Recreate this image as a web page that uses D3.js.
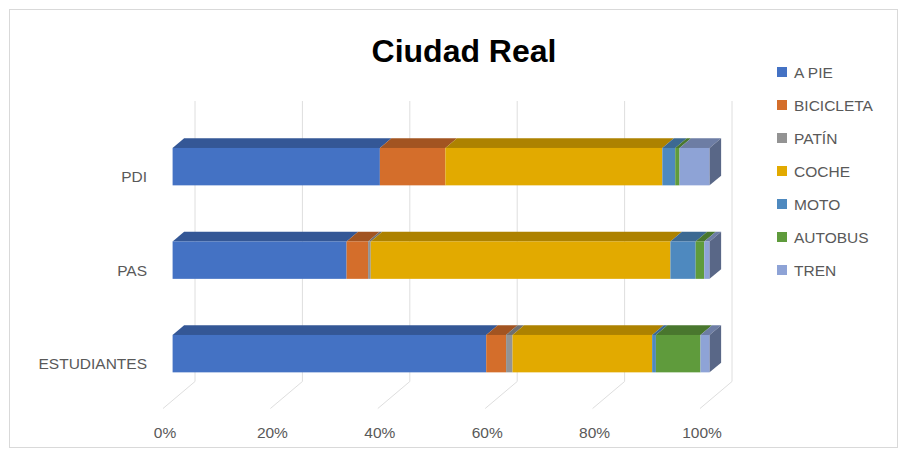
<!DOCTYPE html>
<html>
<head>
<meta charset="utf-8">
<script src="https://cdn.jsdelivr.net/npm/d3@7"></script>
<style>
  body { margin: 0; background: #fff; }
  text { font-family: "Liberation Sans", Arial, sans-serif; }
</style>
</head>
<body>
<script>
// categories (top to bottom) and modes of transport
const categories = ["PDI", "PAS", "ESTUDIANTES"];
const modes = ["A PIE", "BICICLETA", "PATÍN", "COCHE", "MOTO", "AUTOBUS", "TREN"];
const colors = ["#4472C4", "#D46E2B", "#939393", "#E2AA00", "#4E89BF", "#5F9B3C", "#8EA3D6"];

// percentages per category, in the order of modes
const pdi = [38.6, 12.2, 0, 40.4, 2.4, 0.8, 5.6];
const pas = [32.4, 4.0, 0.5, 55.8, 4.7, 1.6, 1.0];
const estudiantes = [58.4, 3.7, 1.2, 26.0, 0.7, 8.3, 1.7];
const values = [pdi, pas, estudiantes];

const ticks = [0, 0.2, 0.4, 0.6, 0.8, 1];

const w = 907;
const h = 457;

// 3D projection: depth 0 = front edge of the floor, 1 = back wall
const DX = 32, DY = 27;
const barFront = 0.3, barBack = 0.66;

const x = d3.scaleLinear().domain([0, 1]).range([163, 700]);
const y = d3.scaleBand().domain(categories).range([128, 408.5])
  .paddingInner(0.6).paddingOuter(0.3);
const floorY = 408.5;

const px = (v, d) => x(v) + d * DX;
const py = (yy, d) => yy - d * DY;

const svg = d3.select("body")
  .append("svg")
  .attr("width", w)
  .attr("height", h);

// chart border
svg.append("rect")
  .attr("x", 9.5).attr("y", 9.5)
  .attr("width", 888).attr("height", 438)
  .attr("fill", "#fff")
  .attr("stroke", "#D9D9D9");

// back wall gridlines + floor lines
const grid = svg.append("g")
  .attr("fill", "none")
  .attr("stroke", "#DEDEDE")
  .attr("stroke-width", 1);

grid.selectAll("path")
  .data(ticks)
  .enter()
  .append("path")
  .attr("d", (t) => {
    const top = py(128, 1);
    return "M" + px(t, 1) + "," + top +
      "L" + px(t, 1) + "," + py(floorY, 1) +
      "L" + px(t, 0) + "," + floorY;
  });

// tick labels
svg.selectAll(".tick-label")
  .data(ticks)
  .enter()
  .append("text")
  .attr("class", "tick-label")
  .attr("x", (t) => x(t) + 2)
  .attr("y", 438)
  .attr("text-anchor", "middle")
  .attr("fill", "#595959")
  .style("font-size", "15.5px")
  .text((t) => d3.format(".0%")(t));

// category labels
svg.selectAll(".cat-label")
  .data(categories)
  .enter()
  .append("text")
  .attr("class", "cat-label")
  .attr("x", 147)
  .attr("y", (c) => y(c) + y.bandwidth() / 2 + 7.5)
  .attr("text-anchor", "end")
  .attr("fill", "#595959")
  .style("font-size", "15.5px")
  .text((c) => c);

// bars
categories.forEach((cat, ci) => {
  const row = values[ci];
  const total = d3.sum(row);
  let acc = 0;
  const segs = row.map((v, mi) => {
    const s = { x0: acc / total, x1: (acc + v) / total, color: colors[mi], v: v };
    acc += v;
    return s;
  }).filter((s) => s.v > 0);

  const yTop = y(cat);
  const yBot = y(cat) + y.bandwidth();
  const g = svg.append("g");

  // top faces
  g.selectAll(".top")
    .data(segs)
    .enter()
    .append("path")
    .attr("fill", (s) => d3.color(s.color).darker(0.75))
    .attr("d", (s) =>
      "M" + px(s.x0, barFront) + "," + py(yTop, barFront) +
      "L" + px(s.x0, barBack) + "," + py(yTop, barBack) +
      "L" + px(s.x1, barBack) + "," + py(yTop, barBack) +
      "L" + px(s.x1, barFront) + "," + py(yTop, barFront) + "Z");

  // front faces
  g.selectAll(".front")
    .data(segs)
    .enter()
    .append("rect")
    .attr("fill", (s) => s.color)
    .attr("x", (s) => px(s.x0, barFront))
    .attr("y", py(yTop, barFront))
    .attr("width", (s) => px(s.x1, barFront) - px(s.x0, barFront))
    .attr("height", yBot - yTop);

  // right side of the last segment
  const last = segs[segs.length - 1];
  g.append("path")
    .attr("fill", d3.color(last.color).darker(1.3))
    .attr("d",
      "M" + px(1, barFront) + "," + py(yTop, barFront) +
      "L" + px(1, barBack) + "," + py(yTop, barBack) +
      "L" + px(1, barBack) + "," + py(yBot, barBack) +
      "L" + px(1, barFront) + "," + py(yBot, barFront) + "Z");
});

// title
svg.append("text")
  .attr("x", 464)
  .attr("y", 62)
  .attr("text-anchor", "middle")
  .attr("fill", "#000")
  .style("font-size", "32px")
  .style("font-weight", "bold")
  .text("Ciudad Real");

// legend
const legend = svg.selectAll(".legend")
  .data(modes)
  .enter()
  .append("g")
  .attr("class", "legend")
  .attr("transform", (d, i) => "translate(777," + (72 + i * 33) + ")");

legend.append("rect")
  .attr("x", 0)
  .attr("y", -5)
  .attr("width", 10)
  .attr("height", 10)
  .attr("fill", (d, i) => colors[i]);

legend.append("text")
  .attr("x", 17)
  .attr("y", 5.5)
  .attr("fill", "#595959")
  .style("font-size", "15.5px")
  .text((d) => d);
</script>
</body>
</html>
